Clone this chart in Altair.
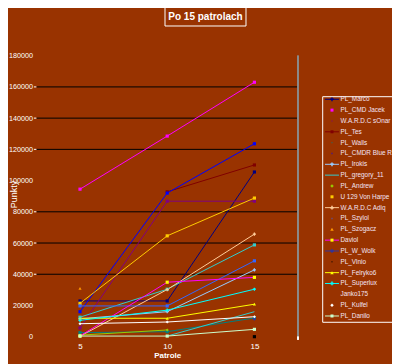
import altair as alt
import pandas as pd

# ---------------- data ----------------
patrols = [5, 10, 15]
names = ["PL_Marco", "PL_CMD Jacek", "W.A.R.D.C sOnar", "PL_Tes", "PL_Walls",
         "PL_CMDR Blue R", "PL_Irokis", "PL_gregory_11", "PL_Andrew",
         "U 129 Von Harpe", "W.A.R.D.C Adiq", "PL_Szylol", "PL_Szogacz",
         "Daviol", "PL_W_Wolk", "PL_Vlnio", "PL_Felryko6", "PL_Superlux",
         "Janko175", "PL_Kulfel", "PL_Danilo"]
v5 = [22900, 94500, 5600, None, 2600, 16000, 11500, 12500, 1000, 21400, 300,
      19700, 31000, 500, None, None, 11800, 10500, None, 8300, 400]
v10 = [22900, 128500, 86800, 92800, 3200, 92000, 16000, 30400, 4300, 64600,
       30200, 19700, None, 34900, None, None, 11800, 17000, 400, 9400, 400]
v15 = [105500, 163000, 86800, 110000, 12000, 123600, 42800, 58800, None,
       88800, 65700, 48600, None, 38000, 11400, 0, 20800, 30400, 16000, 12800,
       4700]
grid_values = [40000, 60000, 80000, 120000, 140000, 160000]
y_labels = list(range(0, 180001, 20000))
title_text = "Po 15 patrolach"

# ---------------- styles ----------------
line_colors = ["#000080", "#ff00ff", "#800080", "#800000", "#008080",
               "#0000ff", "#99ccff", "#33cccc", "#99cc00", "#ffcc00",
               "#ffcc99", "#3366ff", "#ff9900", "#ff00ff", "#333399",
               "#000000", "#ffff00", "#00ffff", "#33cccc", "#ffffff",
               "#ccffcc"]
marker_colors = list(line_colors)
marker_colors[13] = "#ffff00"
marker_shapes = ["square", "square", "square", "square", "square", "square",
                 "cross", "square", "diamond", "square", "cross", "square",
                 "triangle-up", "square", "cross", "square", "triangle-up",
                 "cross", "stroke", "diamond", "square"]
# legend glyph: does the entry show a line segment, and which marker
legend_has_line = [True, False, False, True, False, False, True, True, False,
                   False, True, False, False, True, True, False, True, True,
                   False, False, True]
legend_marker = ["cross", "square", "dot", "square", "dot", "dot", "cross",
                 None, "diamond", "square", "cross", "dot", "triangle-up",
                 "square", "cross", "dot", "triangle-up", "cross", "stroke",
                 "diamond", "square"]
DOT_PATH = "M-0.35,-0.7H0.35V0.7H-0.35Z"
marker_size = {"cross": 14, "square": 9, "dot": 4, "diamond": 12,
               "triangle-up": 12, "stroke": 12}

rows = []
for i, n in enumerate(names):
    for p, vals in zip(patrols, (v5, v10, v15)):
        v = vals[i]
        if v is None:
            continue
        rows.append({"name": n, "patrol": p, "value": v,
                     "lcol": line_colors[i], "mcol": marker_colors[i],
                     "mshape": marker_shapes[i]})
df = pd.DataFrame(rows)

leg_rows = []
for i, n in enumerate(names):
    m = legend_marker[i]
    leg_rows.append({"name": n, "lcol": line_colors[i],
                     "mcol": marker_colors[i],
                     "line": legend_has_line[i],
                     "mshape": (DOT_PATH if m == "dot" else m) if m else None,
                     "msize": marker_size[m] if m else 0})
ldf = pd.DataFrame(leg_rows)

W, H = 261.6, 281
FONT = "Liberation Sans"
TXT = "#ffffff"

xscale = alt.Scale(type="point", padding=0.5)
yscale = alt.Scale(domain=[0, 180000], nice=False)

x_axis = alt.Axis(title="Patrole", labelAngle=0, ticks=False, domain=False,
                  grid=False, labelColor=TXT, labelFontSize=8, labelFont=FONT,
                  labelPadding=6, titleColor=TXT, titleFontSize=8,
                  titleFont=FONT, titleFontWeight="bold", titleY=19.3,
                  titleBaseline="middle")
y_axis = alt.Axis(title="Punkty", values=y_labels, format="d", ticks=False,
                  domain=False, grid=False, labelColor=TXT, labelFontSize=7.2,
                  labelFont=FONT, labelPadding=4, titleColor=TXT,
                  titleFontSize=9, titleFont=FONT, titleFontWeight="normal",
                  titleX=-23.2, titleY=138.3, titleAlign="center",
                  titleBaseline="middle")
X = alt.X("patrol:O", scale=xscale, axis=x_axis)
Y = alt.Y("value:Q", scale=yscale, axis=y_axis)

base = alt.Chart(df)

lines = base.mark_line(strokeWidth=1).encode(
    x=X, y=Y,
    color=alt.Color("lcol:N", scale=None, legend=None),
    detail="name:N",
)

markers = base.mark_point(filled=True, size=10, opacity=1).encode(
    x=X, y=Y,
    color=alt.Color("mcol:N", scale=None, legend=None),
    shape=alt.Shape("mshape:N", scale=None, legend=None),
)

gdf = pd.DataFrame({"value": grid_values})
grid = alt.Chart(gdf).mark_rule(color="black", strokeWidth=1).encode(
    y=Y, x=alt.value(0), x2=alt.value(W),
)
gticks = alt.Chart(gdf).mark_rule(color="white", strokeWidth=1).encode(
    y=Y, x=alt.value(-2.5), x2=alt.value(0),
)
right_border = alt.Chart(gdf).mark_rule(color="#8c8c8c", strokeWidth=1).encode(
    x=alt.value(W), y=alt.value(0), y2=alt.value(H),
)
right_tick = alt.Chart(gdf).mark_rule(color="white", strokeWidth=1).encode(
    x=alt.value(W), y=alt.value(H), y2=alt.value(H + 3),
)

tdf = pd.DataFrame({"t": [title_text]})
title_box = alt.Chart(tdf).mark_rect(fillOpacity=0, stroke="white",
                                     strokeWidth=1).encode(
    x=alt.value(128.6), x2=alt.value(209.6),
    y=alt.value(-48.9), y2=alt.value(-29.7),
)
title = alt.Chart(tdf).mark_text(color="white", font=FONT, fontSize=10,
                                 fontWeight="bold", align="center",
                                 baseline="middle").encode(
    text="t:N", x=alt.value(169.1), y=alt.value(-38.9),
)

main = alt.layer(grid, gticks, right_border, right_tick, lines, markers,
                 title_box, title)

# ---------------- legend (drawn from the names list) ----------------
leg_y = alt.Y("name:N", sort=names, axis=None,
              scale=alt.Scale(type="point", padding=0, range=[43.6, 260.3]))
LX0 = 286.3
leg_frame = alt.Chart(tdf).mark_rect(fillOpacity=0, stroke="white",
                                     strokeWidth=1).encode(
    x=alt.value(LX0), x2=alt.value(LX0 + 140), y=alt.value(41),
    y2=alt.value(266.6),
)
leg_lines = alt.Chart(ldf).transform_filter("datum.line").mark_rule(
    strokeWidth=1).encode(
    y=leg_y, x=alt.value(LX0 + 2.3), x2=alt.value(LX0 + 16.3),
    color=alt.Color("lcol:N", scale=None, legend=None),
)
leg_marks = alt.Chart(ldf).transform_filter("datum.msize > 0").mark_point(
    filled=True, opacity=1).encode(
    y=leg_y, x=alt.value(LX0 + 9.3),
    color=alt.Color("mcol:N", scale=None, legend=None),
    shape=alt.Shape("mshape:N", scale=None, legend=None),
    size=alt.Size("msize:Q", scale=None, legend=None),
)
leg_text = alt.Chart(ldf).mark_text(
    align="left", baseline="middle", font=FONT, fontSize=6.4,
    color="#f4e4f4").encode(
    y=leg_y, x=alt.value(LX0 + 17.8), text="name:N",
)
legend = alt.layer(leg_frame, leg_lines, leg_marks, leg_text)

chart = alt.layer(main, legend).resolve_scale(y="independent").properties(
    width=W, height=H,
    autosize=alt.AutoSizeParams(type="none"),
    padding={"left": 28.4, "top": 47.7, "right": 94, "bottom": 28},
    background="#993300",
).configure_view(stroke=None)

chart.save("out.html", embed_options={"renderer": "svg", "actions": False})
